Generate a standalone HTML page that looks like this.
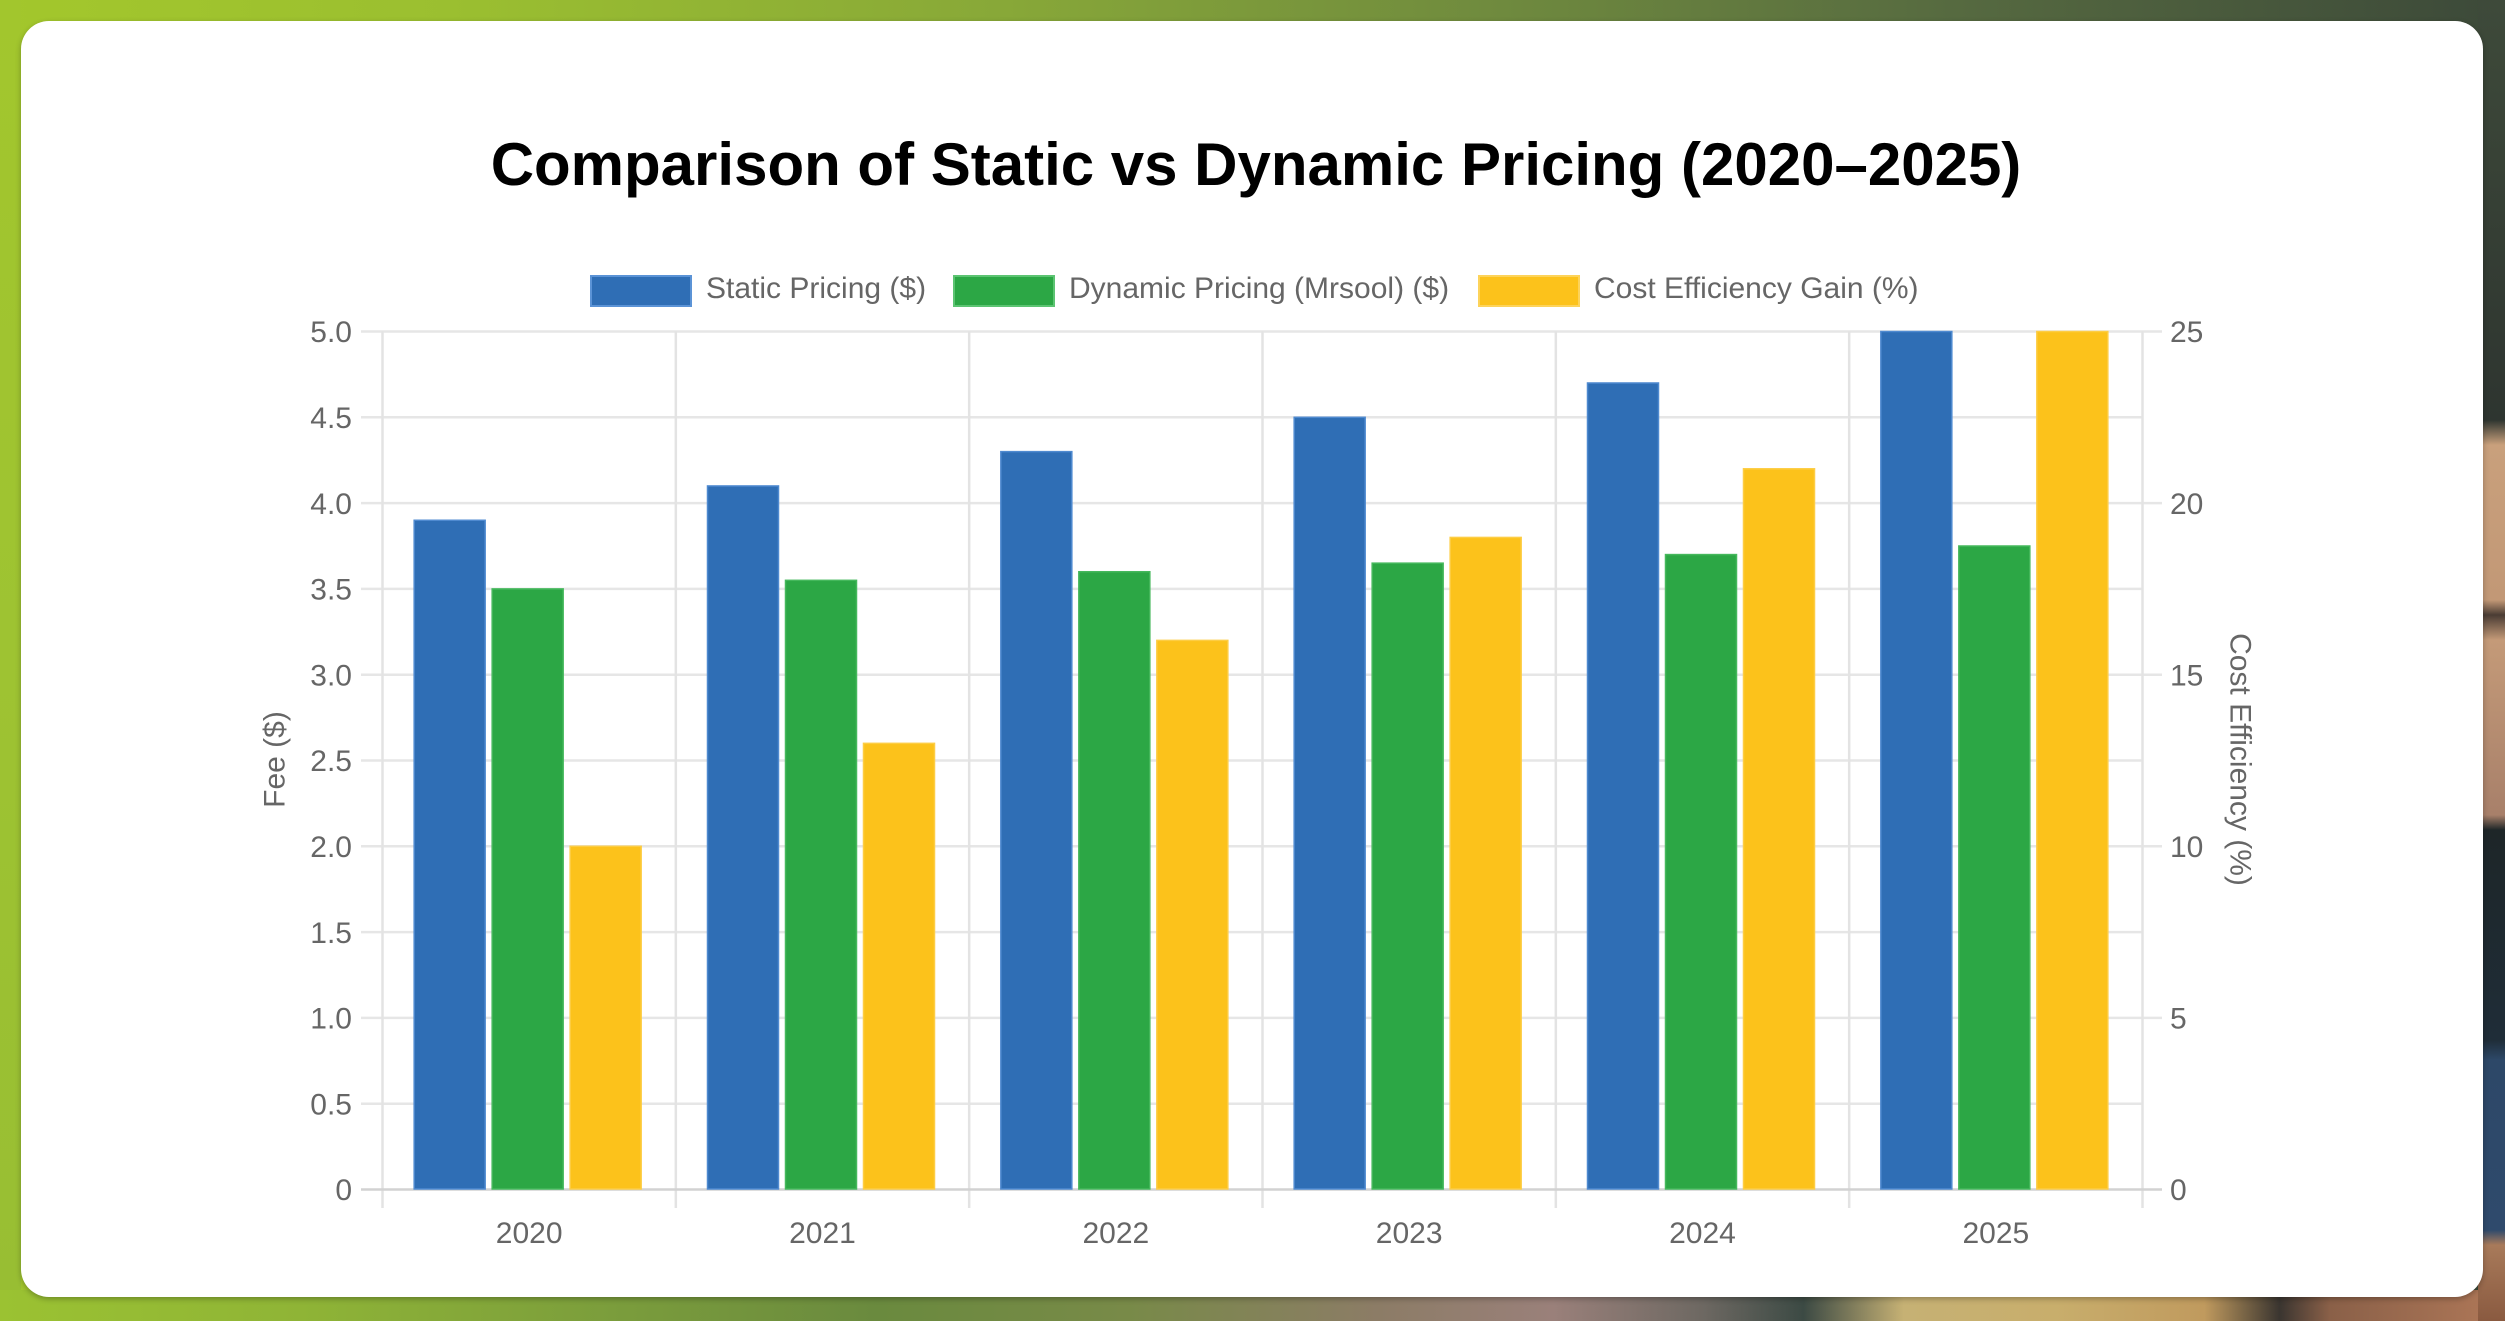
<!DOCTYPE html>
<html>
<head>
<meta charset="utf-8">
<style>
  html, body { margin:0; padding:0; }
  body { width:2505px; height:1321px; overflow:hidden; position:relative;
    background: linear-gradient(90deg, #a3c72c 0%, #9bbf30 18%, #88a838 40%, #6f8a3e 60%, #566a40 78%, #3c4939 100%); }
  .left { position:absolute; left:0; top:0; width:21px; height:1321px;
    background: linear-gradient(180deg, #a2c62d 0%, #9ec332 50%, #98be33 100%); }
  .bottom { position:absolute; left:0; top:1290px; width:2505px; height:31px;
    background: linear-gradient(90deg, #9bc232 0%, #8fb436 12%, #7a9c3c 25%, #6a8a3e 35%, #788a48 45%, #8c7c66 55%, #9a807a 62%, #6d6862 68%, #3c4a44 72%, #c6b174 76%, #c8ae6c 82%, #c09a5e 88%, #3a3530 91%, #8a6048 93%, #b07858 100%); }
  .right { position:absolute; left:2478px; top:0; width:27px; height:1321px;
    background: linear-gradient(180deg, #3e4a3a 0px, #2e3530 420px, #c9a07c 445px, #c29876 600px, #4a3c34 615px, #c49a78 640px, #a8806a 815px, #1e2628 830px, #1f2d38 1040px, #2d4868 1060px, #2f4a6c 1230px, #a87a5a 1245px, #8a5a40 1321px); }
  .card { position:absolute; left:21px; top:21px; width:2462px; height:1276px;
    background:#ffffff; border-radius:28px; box-shadow:0 2px 6px rgba(0,0,0,0.28); }
  svg { position:absolute; left:0; top:0; }
  text { font-family:"Liberation Sans", Arial, sans-serif; }
</style>
</head>
<body>
<div class="left"></div>
<div class="bottom"></div>
<div class="right"></div>
<div class="card"></div>
<svg width="2505" height="1321" viewBox="0 0 2505 1321" xmlns="http://www.w3.org/2000/svg">
  <!-- Title -->
  <text x="1256" y="185" font-size="60" font-weight="bold" fill="#000" text-anchor="middle">Comparison of Static vs Dynamic Pricing (2020–2025)</text>

  <!-- Legend -->
  <rect x="591" y="276" width="100" height="30" fill="#2f6eb5" stroke="#5b93d6" stroke-width="2"/>
  <text x="706" y="298" font-size="30" fill="#666">Static Pricing ($)</text>
  <rect x="954" y="276" width="100" height="30" fill="#2ca745" stroke="#5cc472" stroke-width="2"/>
  <text x="1069" y="298" font-size="30" fill="#666">Dynamic Pricing (Mrsool) ($)</text>
  <rect x="1479" y="276" width="100" height="30" fill="#fcc21b" stroke="#fdd35a" stroke-width="2"/>
  <text x="1594" y="298" font-size="30" fill="#666">Cost Efficiency Gain (%)</text>

  <!-- Horizontal gridlines -->
  <g stroke="#e6e6e6" stroke-width="2.5">
    <line x1="361" y1="1103.7" x2="2142.5" y2="1103.7"/>
    <line x1="361" y1="1017.9" x2="2162" y2="1017.9"/>
    <line x1="361" y1="932.1" x2="2142.5" y2="932.1"/>
    <line x1="361" y1="846.3" x2="2162" y2="846.3"/>
    <line x1="361" y1="760.5" x2="2142.5" y2="760.5"/>
    <line x1="361" y1="674.7" x2="2162" y2="674.7"/>
    <line x1="361" y1="588.9" x2="2142.5" y2="588.9"/>
    <line x1="361" y1="503.1" x2="2162" y2="503.1"/>
    <line x1="361" y1="417.3" x2="2142.5" y2="417.3"/>
    <line x1="361" y1="331.5" x2="2162" y2="331.5"/>
  </g>
  <!-- Vertical gridlines -->
  <g stroke="#e3e3e3" stroke-width="2.5">
    <line x1="382.5" y1="331.5" x2="382.5" y2="1208"/>
    <line x1="675.83" y1="331.5" x2="675.83" y2="1208"/>
    <line x1="969.17" y1="331.5" x2="969.17" y2="1208"/>
    <line x1="1262.5" y1="331.5" x2="1262.5" y2="1208"/>
    <line x1="1555.83" y1="331.5" x2="1555.83" y2="1208"/>
    <line x1="1849.17" y1="331.5" x2="1849.17" y2="1208"/>
    <line x1="2142.5" y1="331.5" x2="2142.5" y2="1208"/>
  </g>
  <!-- Zero line -->
  <line x1="361" y1="1189.5" x2="2162" y2="1189.5" stroke="#d2d2d2" stroke-width="2.5"/>

  <!-- Bars: Static -->
  <g fill="#2f6eb5" stroke="#4f8ad0" stroke-width="1.5">
    <rect x="414.17" y="520.26" width="71" height="668.74"/>
    <rect x="707.5" y="485.94" width="71" height="703.06"/>
    <rect x="1000.83" y="451.62" width="71" height="737.38"/>
    <rect x="1294.17" y="417.3" width="71" height="771.7"/>
    <rect x="1587.5" y="382.98" width="71" height="806.02"/>
    <rect x="1880.83" y="331.5" width="71" height="857.5"/>
  </g>
  <!-- Bars: Dynamic -->
  <g fill="#2ca745" stroke="#45b85c" stroke-width="1.5">
    <rect x="492.17" y="588.9" width="71" height="600.1"/>
    <rect x="785.5" y="580.32" width="71" height="608.68"/>
    <rect x="1078.83" y="571.74" width="71" height="617.26"/>
    <rect x="1372.17" y="563.16" width="71" height="625.84"/>
    <rect x="1665.5" y="554.58" width="71" height="634.42"/>
    <rect x="1958.83" y="546.0" width="71" height="643.0"/>
  </g>
  <!-- Bars: Efficiency -->
  <g fill="#fcc21b" stroke="#fdcd44" stroke-width="1.5">
    <rect x="570.17" y="846.3" width="71" height="342.7"/>
    <rect x="863.5" y="743.34" width="71" height="445.66"/>
    <rect x="1156.83" y="640.38" width="71" height="548.62"/>
    <rect x="1450.17" y="537.42" width="71" height="651.58"/>
    <rect x="1743.5" y="468.78" width="71" height="720.22"/>
    <rect x="2036.83" y="331.5" width="71" height="857.5"/>
  </g>

  <!-- Left tick labels -->
  <g font-size="30" fill="#666" text-anchor="end" font-family="Liberation Sans, Arial, sans-serif">
    <text x="352" y="1200.2">0</text>
    <text x="352" y="1114.4">0.5</text>
    <text x="352" y="1028.6">1.0</text>
    <text x="352" y="942.8">1.5</text>
    <text x="352" y="857.0">2.0</text>
    <text x="352" y="771.2">2.5</text>
    <text x="352" y="685.4">3.0</text>
    <text x="352" y="599.6">3.5</text>
    <text x="352" y="513.8">4.0</text>
    <text x="352" y="428.0">4.5</text>
    <text x="352" y="342.2">5.0</text>
  </g>
  <!-- Right tick labels -->
  <g font-size="30" fill="#666" text-anchor="start" font-family="Liberation Sans, Arial, sans-serif">
    <text x="2170" y="1200.2">0</text>
    <text x="2170" y="1028.6">5</text>
    <text x="2170" y="857.0">10</text>
    <text x="2170" y="685.4">15</text>
    <text x="2170" y="513.8">20</text>
    <text x="2170" y="342.2">25</text>
  </g>
  <!-- X labels -->
  <g font-size="30" fill="#666" text-anchor="middle" font-family="Liberation Sans, Arial, sans-serif">
    <text x="529.17" y="1243">2020</text>
    <text x="822.5" y="1243">2021</text>
    <text x="1115.83" y="1243">2022</text>
    <text x="1409.17" y="1243">2023</text>
    <text x="1702.5" y="1243">2024</text>
    <text x="1995.83" y="1243">2025</text>
  </g>

  <!-- Axis titles -->
  <text x="0" y="0" font-size="30" fill="#666" text-anchor="middle" dominant-baseline="central" transform="translate(275,759.5) rotate(-90)">Fee ($)</text>
  <text x="0" y="0" font-size="30" fill="#666" text-anchor="middle" dominant-baseline="central" transform="translate(2240,759.5) rotate(90)">Cost Efficiency (%)</text>
</svg>
</body>
</html>
